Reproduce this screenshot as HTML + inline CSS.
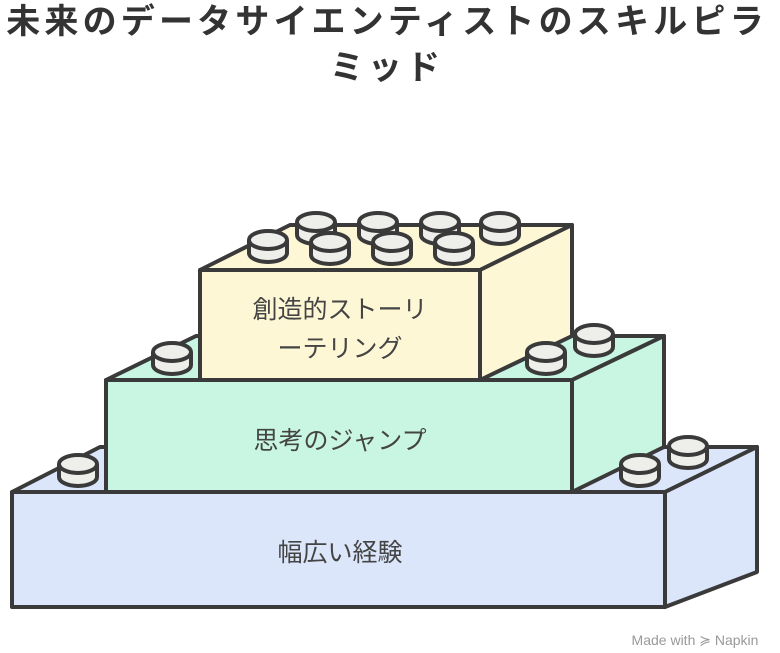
<!DOCTYPE html>
<html><head><meta charset="utf-8"><style>
body{margin:0;width:780px;height:653px;background:#fff;overflow:hidden;font-family:"Liberation Sans","Noto Sans CJK JP",sans-serif}
.t{position:absolute;left:-8px;width:790px;text-align:center;font-weight:bold;font-size:34px;line-height:40px;color:#333;letter-spacing:4.2px;white-space:nowrap}
</style></head><body>
<div class="t" style="top:2px">未来のデータサイエンティストのスキルピラ</div>
<div class="t" style="top:48px">ミッド</div>
<svg width="780" height="653" style="position:absolute;left:0;top:0" font-family="Liberation Sans, Noto Sans CJK JP, sans-serif">
<g stroke="#3a3a3a" stroke-width="4" stroke-linejoin="round">
<polygon points="12,492 100,447 757,447 665,492" fill="#dce6fb"/>
<polygon points="665,492 757,447 757,572 665,607" fill="#dce6fb"/>
<rect x="12" y="492" width="653" height="115" fill="#dce6fb"/>
<polygon points="106,380 196,336 664,336 572,380" fill="#c8f6e2"/>
<polygon points="572,380 664,336 664,447 572,492" fill="#c8f6e2"/>
<rect x="106" y="380" width="466" height="112" fill="#c8f6e2"/>
<polygon points="200,270 290,225 572,225 480,270" fill="#fdf7d6"/>
<polygon points="480,270 572,225 572,336 480,380" fill="#fdf7d6"/>
<rect x="200" y="270" width="280" height="110" fill="#fdf7d6"/>
</g>
<g stroke="#3a3a3a" stroke-width="4" fill="#eeeeea">
<path d="M297,222 v13 a19,9 0 0 0 38,0 v-13"/><ellipse cx="316" cy="222" rx="19" ry="9"/>
<path d="M359,222 v13 a19,9 0 0 0 38,0 v-13"/><ellipse cx="378" cy="222" rx="19" ry="9"/>
<path d="M421,222 v13 a19,9 0 0 0 38,0 v-13"/><ellipse cx="440" cy="222" rx="19" ry="9"/>
<path d="M481,222 v13 a19,9 0 0 0 38,0 v-13"/><ellipse cx="500" cy="222" rx="19" ry="9"/>
<path d="M249,240 v13 a19,9 0 0 0 38,0 v-13"/><ellipse cx="268" cy="240" rx="19" ry="9"/>
<path d="M311,242 v13 a19,9 0 0 0 38,0 v-13"/><ellipse cx="330" cy="242" rx="19" ry="9"/>
<path d="M373,242 v13 a19,9 0 0 0 38,0 v-13"/><ellipse cx="392" cy="242" rx="19" ry="9"/>
<path d="M435,242 v13 a19,9 0 0 0 38,0 v-13"/><ellipse cx="454" cy="242" rx="19" ry="9"/>
<path d="M153,352 v13 a19,9 0 0 0 38,0 v-13"/><ellipse cx="172" cy="352" rx="19" ry="9"/>
<path d="M527,352 v13 a19,9 0 0 0 38,0 v-13"/><ellipse cx="546" cy="352" rx="19" ry="9"/>
<path d="M575,334 v13 a19,9 0 0 0 38,0 v-13"/><ellipse cx="594" cy="334" rx="19" ry="9"/>
<path d="M59,464 v13 a19,9 0 0 0 38,0 v-13"/><ellipse cx="78" cy="464" rx="19" ry="9"/>
<path d="M621,464 v13 a19,9 0 0 0 38,0 v-13"/><ellipse cx="640" cy="464" rx="19" ry="9"/>
<path d="M669,446 v13 a19,9 0 0 0 38,0 v-13"/><ellipse cx="688" cy="446" rx="19" ry="9"/>
</g>
<g fill="#444" font-size="25" text-anchor="middle">
<text x="340" y="318">創造的ストーリ</text>
<text x="340" y="357">ーテリング</text>
<text x="340" y="449">思考のジャンプ</text>
<text x="340" y="561">幅広い経験</text>
</g>
<text x="695" y="645" font-size="14" fill="#999" text-anchor="middle">Made with ≽ Napkin</text>
</svg>
</body></html>
